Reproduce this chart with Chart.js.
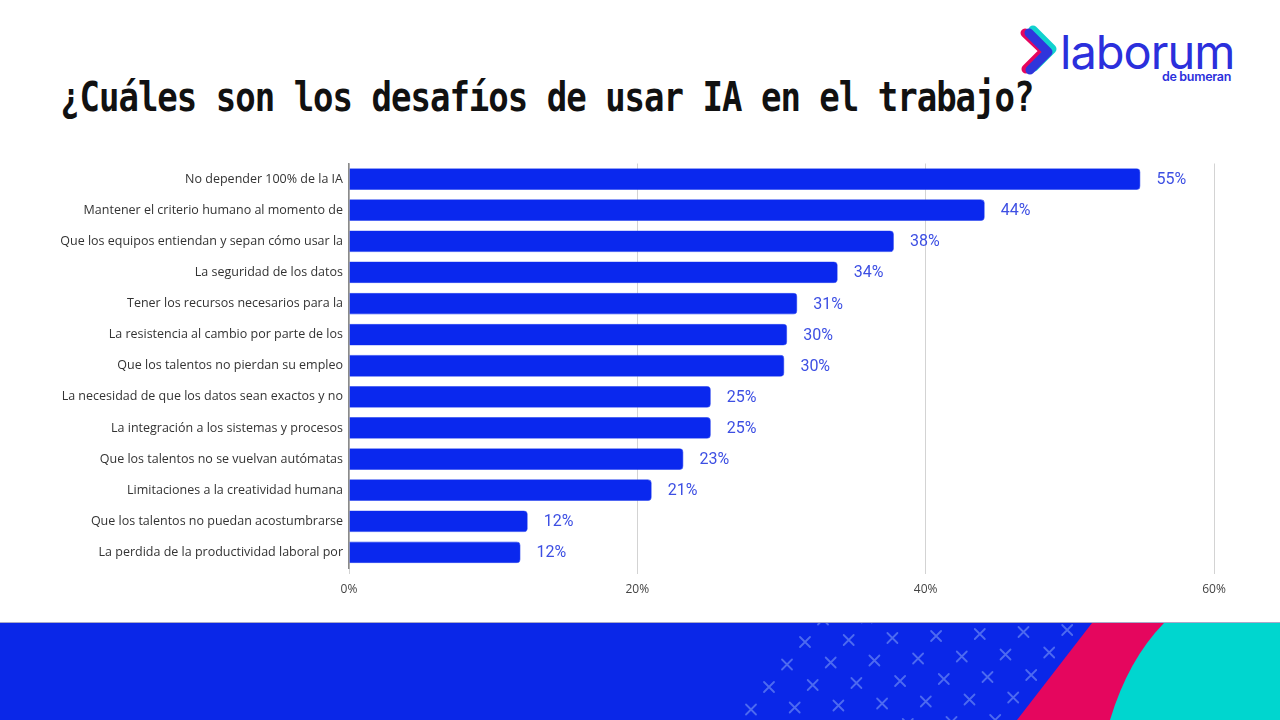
<!DOCTYPE html>
<html>
<head>
<meta charset="utf-8">
<script src="https://cdn.jsdelivr.net/npm/chart.js@4"></script>
<style>
  html, body { margin: 0; padding: 0; background: #fff; }
  body { width: 1280px; height: 720px; position: relative; overflow: hidden; }
  #title {
    position: absolute; left: 60px; top: 82px;
    font-family: "DejaVu Sans Mono", monospace; font-weight: bold;
    font-size: 34px; letter-spacing: -1px; line-height: 34px; color: #111;
    transform: scaleY(1.2); transform-origin: 0 28px; white-space: nowrap;
  }
  #wrap { position: absolute; left: 0; top: 150px; width: 1280px; height: 460px; }
  #deco { position: absolute; left: 0; top: 0; }
  .logo-main { font-family: Inter, "Noto Sans", sans-serif; font-weight: 400; font-size: 47px; fill: #2b2fdc; letter-spacing: -1px; }
  .logo-sub { font-family: Inter, "Noto Sans", sans-serif; font-weight: 600; font-size: 12.5px; fill: #2b2fdc; letter-spacing: -0.3px; }
</style>
</head>
<body>
<svg id="deco" width="1280" height="720">
  <defs>
    <clipPath id="band"><rect x="0" y="623" width="1280" height="97"/></clipPath>
  </defs>
  <!-- logo chevron -->
  <polyline points="1025,33 1044,51 1026,69" fill="none" stroke="#e5065e" stroke-width="9" stroke-linecap="round" stroke-linejoin="round"/>
  <polyline points="1033,30 1052,49 1034,67" fill="none" stroke="#11d2cf" stroke-width="9" stroke-linecap="round" stroke-linejoin="round"/>
  <polyline points="1029,33 1048,52 1030,70" fill="none" stroke="#2f35dc" stroke-width="9" stroke-linecap="round" stroke-linejoin="round"/>
  <text class="logo-main" x="1060" y="69">laborum</text>
  <text class="logo-sub" x="1231" y="81" text-anchor="end">de bumeran</text>
  <!-- bottom band -->
  <rect x="0" y="622" width="1280" height="1" fill="#a9a9c9"/>
  <rect x="0" y="623" width="1280" height="97" fill="#0a27e8"/>
  <g id="marks" clip-path="url(#band)" stroke="#4d6af0" stroke-width="1.8" stroke-linecap="round"></g>
  <path d="M1092,623 L1280,623 L1280,720 L1017,720 Z" fill="#e5065e"/>
  <path d="M1164,623 L1280,623 L1280,720 L1110,720 Q1128,660 1164,623 Z" fill="#00d6cf"/>
</svg>
<div id="title">¿Cuáles son los desafíos de usar IA en el trabajo?</div>
<div id="wrap"><canvas id="chart"></canvas></div>
<script>
// decorative x marks in the band
var marks = document.getElementById('marks');
for (var r = -1; r <= 5; r++) {
  for (var k = 0; k < 7; k++) {
    var cx = 805 - 18 * r + 43.7 * k, cy = 642 + 22.5 * r - 2 * k;
    var p = document.createElementNS('http://www.w3.org/2000/svg', 'path');
    p.setAttribute('d', 'M' + (cx - 5) + ',' + (cy - 5) + 'L' + (cx + 5) + ',' + (cy + 5) + 'M' + (cx + 5) + ',' + (cy - 5) + 'L' + (cx - 5) + ',' + (cy + 5));
    marks.appendChild(p);
  }
}

var categories = [
  'No depender 100% de la IA',
  'Mantener el criterio humano al momento de',
  'Que los equipos entiendan y sepan cómo usar la',
  'La seguridad de los datos',
  'Tener los recursos necesarios para la',
  'La resistencia al cambio por parte de los',
  'Que los talentos no pierdan su empleo',
  'La necesidad de que los datos sean exactos y no',
  'La integración a los sistemas y procesos',
  'Que los talentos no se vuelvan autómatas',
  'Limitaciones a la creatividad humana',
  'Que los talentos no puedan acostumbrarse',
  'La perdida de la productividad laboral por'
];
var values = [54.9, 44.1, 37.8, 33.9, 31.1, 30.4, 30.2, 25.1, 25.1, 23.2, 21.0, 12.4, 11.9];
var xTicks = [0, 20, 40, 60];

var valueLabels = {
  id: 'valueLabels',
  afterDatasetsDraw: function (chart) {
    var ctx = chart.ctx;
    var meta = chart.getDatasetMeta(0);
    ctx.save();
    ctx.font = '16px Roboto';
    ctx.fillStyle = '#3d4fe3';
    ctx.textAlign = 'left';
    ctx.textBaseline = 'middle';
    meta.data.forEach(function (bar, i) {
      ctx.fillText(Math.round(values[i]) + '%', bar.x + 16, bar.y + 1);
    });
    ctx.restore();
  }
};

new Chart(document.getElementById('chart'), {
  type: 'bar',
  data: {
    labels: categories,
    datasets: [{
      data: values,
      backgroundColor: '#0a28ee',
      borderColor: '#3550f0',
      borderWidth: 0.6,
      borderRadius: 4,
      borderSkipped: 'start',
      barPercentage: 0.7,
      categoryPercentage: 1
    }]
  },
  options: {
    indexAxis: 'y',
    responsive: true,
    maintainAspectRatio: false,
    animation: false,
    layout: { padding: { top: 11, right: 66, left: 0, bottom: 0 } },
    plugins: { legend: { display: false }, tooltip: { enabled: false } },
    scales: {
      x: {
        min: 0, max: 60,
        afterBuildTicks: function (axis) { axis.ticks = xTicks.map(function (v) { return { value: v }; }); },
        afterFit: function (axis) { axis.height = 42; },
        grid: { color: '#d3d3d3', lineWidth: 1, tickLength: 6, drawTicks: true },
        border: { display: false },
        ticks: {
          padding: 8,
          color: '#444',
          font: { family: 'Open Sans', size: 12 },
          callback: function (v) { return v + '%'; }
        }
      },
      y: {
        afterFit: function (axis) { axis.width = 349; },
        grid: { display: false, drawTicks: false },
        border: { display: true, color: '#8a8a8a', width: 1.5 },
        ticks: {
          padding: 6,
          color: '#333',
          font: { family: 'Open Sans', size: 12.5 }
        }
      }
    }
  },
  plugins: [valueLabels]
});
</script>
</body>
</html>
